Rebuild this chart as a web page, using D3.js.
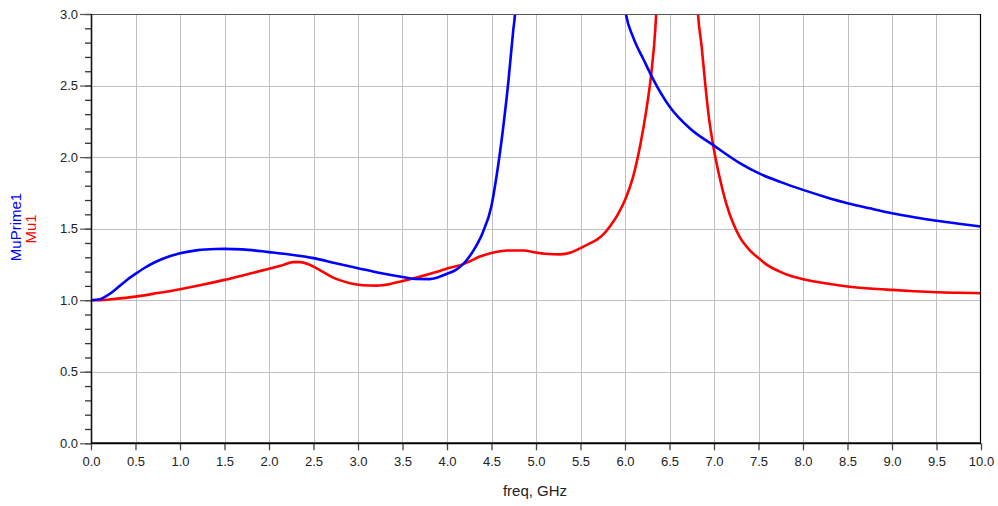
<!DOCTYPE html>
<html>
<head>
<meta charset="utf-8">
<script src="https://cdn.jsdelivr.net/npm/d3@7"></script>
<style>
  html, body { margin: 0; padding: 0; background: #fff; }
  svg { display: block; }
  text { font-family: "Liberation Sans", Arial, sans-serif; }
</style>
</head>
<body>
<svg id="chart" width="998" height="506"></svg>
<script>
// ---- data ----
const xTicks = [0,0.5,1,1.5,2,2.5,3,3.5,4,4.5,5,5.5,6,6.5,7,7.5,8,8.5,9,9.5,10];
const yTicks = [0,0.5,1,1.5,2,2.5,3];
const xLabel = "freq, GHz";
const seriesNames = ["MuPrime1", "Mu1"];

// MuPrime1 (blue), two branches separated by the resonance
const blueFreqA = [0,0.1,0.2,0.3,0.4,0.5,0.6,0.7,0.8,0.9,1.0,1.2,1.4,1.5,1.7,2.0,2.25,2.5,2.75,3.0,3.25,3.5,3.65,3.8,3.9,4.0,4.1,4.15,4.2,4.3,4.4,4.5,4.56,4.63,4.69,4.745,4.764,4.78];
const blueValA  = [1.0,1.007,1.04,1.088,1.14,1.184,1.225,1.26,1.288,1.31,1.328,1.35,1.358,1.359,1.355,1.336,1.318,1.294,1.258,1.224,1.19,1.162,1.148,1.147,1.16,1.185,1.212,1.235,1.265,1.35,1.47,1.66,1.88,2.2,2.53,2.89,3.0,3.2];
const blueFreqB = [5.99,6.01,6.09,6.21,6.32,6.5,6.73,7.0,7.29,7.5,7.75,8.0,8.25,8.5,8.75,9.0,9.25,9.5,9.75,10.0];
const blueValB  = [3.08,3.0,2.84,2.68,2.54,2.354,2.20,2.080,1.958,1.888,1.825,1.771,1.722,1.678,1.642,1.608,1.580,1.555,1.534,1.515];

// Mu1 (red), two branches
const redFreqA = [0,0.1,0.25,0.5,0.75,1.0,1.25,1.5,1.75,2.0,2.15,2.27,2.35,2.5,2.6,2.72,2.82,2.91,3.05,3.21,3.35,3.5,3.65,3.77,3.9,4.0,4.15,4.25,4.37,4.5,4.6,4.67,4.86,5.0,5.1,5.27,5.4,5.5,5.6,5.68,5.76,5.83,5.92,6.0,6.09,6.17,6.24,6.30,6.34,6.35,6.36];
const redValA  = [1.0,1.0,1.008,1.025,1.05,1.077,1.108,1.142,1.18,1.219,1.245,1.266,1.266,1.235,1.2,1.158,1.135,1.119,1.105,1.102,1.112,1.134,1.157,1.177,1.2,1.222,1.245,1.27,1.305,1.33,1.342,1.347,1.347,1.333,1.325,1.32,1.335,1.364,1.395,1.422,1.462,1.515,1.6,1.70,1.86,2.08,2.33,2.61,2.89,3.0,3.15];
const redFreqB = [6.81,6.82,6.86,6.90,6.94,7.0,7.07,7.14,7.22,7.29,7.4,7.5,7.6,7.74,7.85,8.0,8.25,8.5,8.75,9.0,9.25,9.5,9.75,10.0];
const redValB  = [3.1,3.0,2.78,2.52,2.29,2.05,1.84,1.67,1.53,1.44,1.35,1.295,1.245,1.20,1.172,1.147,1.118,1.096,1.082,1.072,1.063,1.056,1.052,1.049];

// ---- layout ----
const svg = d3.select("#chart");
const L = 91, R = 981, T = 14, B = 443.3;
const x = d3.scaleLinear().domain([0, 10]).range([L, R]);
const y = d3.scaleLinear().domain([0, 3]).range([B, T]);

// grid
const grid = svg.append("g");
grid.selectAll("line.vg").data(xTicks.slice(1, -1)).join("line")
  .attr("x1", d => Math.round(x(d)) + 0.5).attr("x2", d => Math.round(x(d)) + 0.5)
  .attr("y1", T).attr("y2", B)
  .attr("stroke", "#c0c0c0").attr("stroke-width", 1);
grid.selectAll("line.hg").data(yTicks.slice(1, -1)).join("line")
  .attr("y1", d => Math.round(y(d)) + 0.5).attr("y2", d => Math.round(y(d)) + 0.5)
  .attr("x1", L).attr("x2", R)
  .attr("stroke", "#c0c0c0").attr("stroke-width", 1);

// clip
svg.append("clipPath").attr("id", "plotclip").append("rect")
  .attr("x", L).attr("y", T).attr("width", R - L).attr("height", B - T);

const line = d3.line().x(d => x(d[0])).y(d => y(d[1])).curve(d3.curveMonotoneX);
const plot = svg.append("g").attr("clip-path", "url(#plotclip)");
function drawSeries(fx, fv, color) {
  plot.append("path").datum(fx.map((f, i) => [f, fv[i]]))
    .attr("d", line).attr("fill", "none")
    .attr("stroke", color).attr("stroke-width", 2.6)
    .attr("stroke-linejoin", "round").attr("stroke-linecap", "round");
}
drawSeries(redFreqA, redValA, "#ff0000");
drawSeries(redFreqB, redValB, "#ff0000");
drawSeries(blueFreqA, blueValA, "#0000ff");
drawSeries(blueFreqB, blueValB, "#0000ff");

// frame
svg.append("line").attr("x1", L).attr("x2", R).attr("y1", T + 0.5).attr("y2", T + 0.5)
  .attr("stroke", "#555").attr("stroke-width", 1.2);
svg.append("line").attr("x1", R - 0.5).attr("x2", R - 0.5).attr("y1", T).attr("y2", B)
  .attr("stroke", "#000").attr("stroke-width", 1.2);

// axes
const yMinor = d3.range(0, 30.5, 1).map(v => v / 10);
const yAxis = svg.append("g").attr("transform", `translate(${L},0)`)
  .call(d3.axisLeft(y).tickValues(yMinor).tickSize(6).tickFormat(""));
yAxis.selectAll(".tick line").attr("stroke", "#333").attr("stroke-width", 1.3);
yAxis.select(".domain").remove();
const yMajor = svg.append("g").attr("transform", `translate(${L},0)`)
  .call(d3.axisLeft(y).tickValues(yTicks).tickSize(11).tickPadding(2).tickFormat(d3.format(".1f")));
yMajor.select(".domain").remove();
yMajor.selectAll(".tick line").attr("stroke", "#555").attr("stroke-width", 1.2);
yMajor.selectAll(".tick text").attr("font-size", 13).attr("fill", "#222")
  .attr("font-family", "'Liberation Sans', Arial, sans-serif");

const xAxis = svg.append("g").attr("transform", `translate(0,${B})`)
  .call(d3.axisBottom(x).tickValues(xTicks).tickSize(7).tickPadding(6).tickFormat(d3.format(".1f")));
xAxis.select(".domain").remove();
xAxis.selectAll(".tick line").attr("stroke", "#444").attr("stroke-width", 1.3);
xAxis.selectAll(".tick text").attr("font-size", 13).attr("fill", "#222")
  .attr("font-family", "'Liberation Sans', Arial, sans-serif");

// left & bottom axis lines
svg.append("line").attr("x1", L + 0.5).attr("x2", L + 0.5).attr("y1", T).attr("y2", B + 0.5)
  .attr("stroke", "#111").attr("stroke-width", 1.6);
svg.append("line").attr("x1", L).attr("x2", R).attr("y1", B).attr("y2", B)
  .attr("stroke", "#000").attr("stroke-width", 2);

// labels
svg.append("text").attr("x", (L + R) / 2 - 1).attr("y", 496)
  .attr("text-anchor", "middle").attr("font-size", 15).attr("fill", "#222").text(xLabel);
svg.append("text").attr("transform", "translate(21,227) rotate(-90)")
  .attr("text-anchor", "middle").attr("font-size", 15).attr("fill", "#0000ff").text(seriesNames[0]);
svg.append("text").attr("transform", "translate(36,229) rotate(-90)")
  .attr("text-anchor", "middle").attr("font-size", 15).attr("fill", "#ff0000").text(seriesNames[1]);
</script>
</body>
</html>
